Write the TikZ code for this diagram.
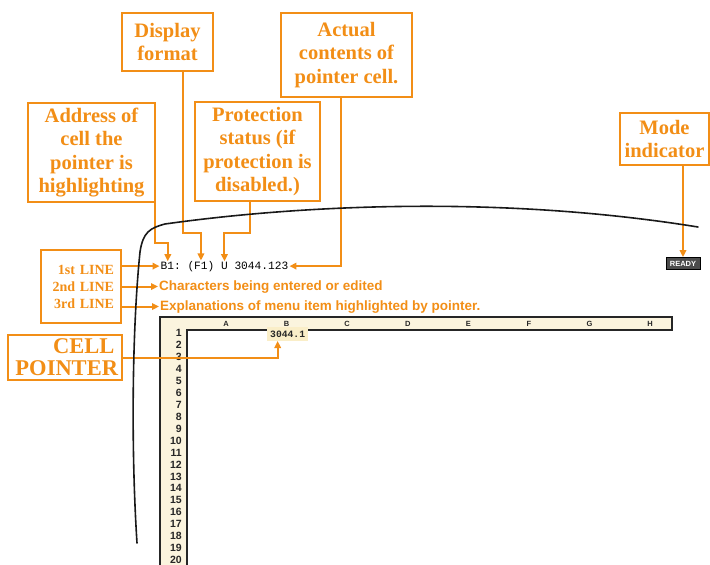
\documentclass[tikz,border=0pt]{standalone}
\usepackage{fontspec}
\setmainfont{Liberation Serif}
\setsansfont{Liberation Sans}
\setmonofont{Liberation Mono}
\usetikzlibrary{arrows.meta}
\definecolor{orng}{RGB}{242,142,22}
\definecolor{cream}{RGB}{251,244,222}
\definecolor{glow}{RGB}{250,238,200}
\begin{document}
\begin{tikzpicture}[x=1pt,y=-1pt,
  lbl/.style={draw=orng, line width=2.2pt, text=orng, font=\fontsize{20.5}{23.5}\selectfont\bfseries, align=center, inner sep=0pt},
  conn/.style={draw=orng, line width=2pt, -{Triangle[length=7pt,width=6.5pt]}},
  mono/.style={font=\fontsize{11.2}{12}\selectfont\ttfamily, text=black, inner sep=1pt, anchor=base west},
  info/.style={font=\fontsize{13.5}{14}\selectfont\sffamily\bfseries, text=orng, inner sep=1pt, anchor=base west},
  rownum/.style={font=\fontsize{10.5}{10}\selectfont\sffamily\bfseries, text=black!85, inner sep=0pt, anchor=east},
  colnum/.style={font=\fontsize{7.5}{8}\selectfont\sffamily\bfseries, text=black!85, inner sep=0pt}
]
\useasboundingbox (0,0) rectangle (710,565);

% label boxes
\node[lbl, minimum width=91pt, minimum height=58pt] (disp) at (167.5,42) {Display\\format};
\node[lbl, minimum width=131pt, minimum height=84pt] (act) at (346.5,55) {Actual\\contents of\\pointer cell.};
\node[lbl, minimum width=127pt, minimum height=99pt] (addr) at (91.5,152.5) {Address of\\cell the\\pointer is\\highlighting};
\node[lbl, minimum width=125pt, minimum height=99pt] (prot) at (257.5,151.5) {Protection\\status (if\\protection is\\disabled.)};
\node[lbl, minimum width=89pt, minimum height=52pt] (mode) at (664.5,139) {Mode\\indicator};
\node[lbl, font=\fontsize{14}{17}\selectfont\bfseries, align=right, text width=66pt, minimum width=80pt, minimum height=73pt] (lines) at (81,286.5) {1st LINE\\2nd LINE\\3rd LINE};
\node[lbl, font=\fontsize{22.5}{22}\selectfont\bfseries, align=right, text width=99pt, minimum width=114pt, minimum height=45pt] (cp) at (65,357.5) {CELL\\POINTER};

% control panel lines
\node[mono] (b1) at (159.5,269.8) {B1:};
\node[mono] (f1) at (186.3,269.8) {(F1)};
\node[mono] (u) at (219.9,269.8) {U};
\node[mono] (val) at (233.3,269.8) {3044.123};
\node[info] (l2) at (158,290) {Characters being entered or edited};
\node[info] (l3) at (159,310) {Explanations of menu item highlighted by pointer.};
\node[draw=black, line width=0.8pt, fill=black!70, text=white, font=\fontsize{7.5}{8}\selectfont\sffamily\bfseries, minimum width=34pt, minimum height=12pt, inner sep=0pt] (ready) at (683,263.5) {READY};

% spreadsheet frame
\draw[black!85, line width=1.3pt, fill=cream] (160,567) -- (160,317) -- (672,317) -- (672,330) -- (187,330) -- (187,567);
\foreach \c [count=\i] in {A,B,C,D,E,F,G,H}
  \node[colnum] (col\c) at ({226+(\i-1)*60.6},323.8) {\c};
\foreach \r in {1,...,20}
  \node[rownum] (row\r) at (182,{333+(\r-1)*11.95}) {\r};
\node[fill=glow, font=\fontsize{9.7}{10}\selectfont\ttfamily\bfseries, text=black!85, inner xsep=3pt, inner ysep=3.5pt, anchor=west] (cell) at (267,334) {3044.1};

% connectors
\coordinate (kA) at (0,243);
\coordinate (kB) at (0,233);
\draw[conn] ([xshift=-1pt]addr.south east) |- ([xshift=-3pt]b1.north |- kA) -- ([xshift=-3pt]b1.north);
\draw[conn] ([xshift=15.5pt]disp.south) |- (f1.north |- kB) -- (f1.north);
\draw[conn] ([xshift=-7.5pt]prot.south) |- (u.north |- kB) -- (u.north);
\draw[conn] ([xshift=-5.5pt]act.south) |- (val.east);
\draw[conn] (ready.north |- mode.south) -- (ready.north);
\draw[conn] (lines.east |- b1.west) -- (b1.west);
\draw[conn] (lines.east |- l2.west) -- (l2.west);
\draw[conn] (lines.east |- l3.west) -- (l3.west);
\draw[conn] (cp.east) -| ([xshift=-10pt]cell.south);

% screen outline
\draw[black!90, line width=1.6pt, line cap=round] (137,543) .. controls (131,450) and (132,330) .. (140,252) .. controls (143,232) and (150,228) .. (165,224) .. controls (300,205) and (500,195) .. (698,227);
\end{tikzpicture}
\end{document}
